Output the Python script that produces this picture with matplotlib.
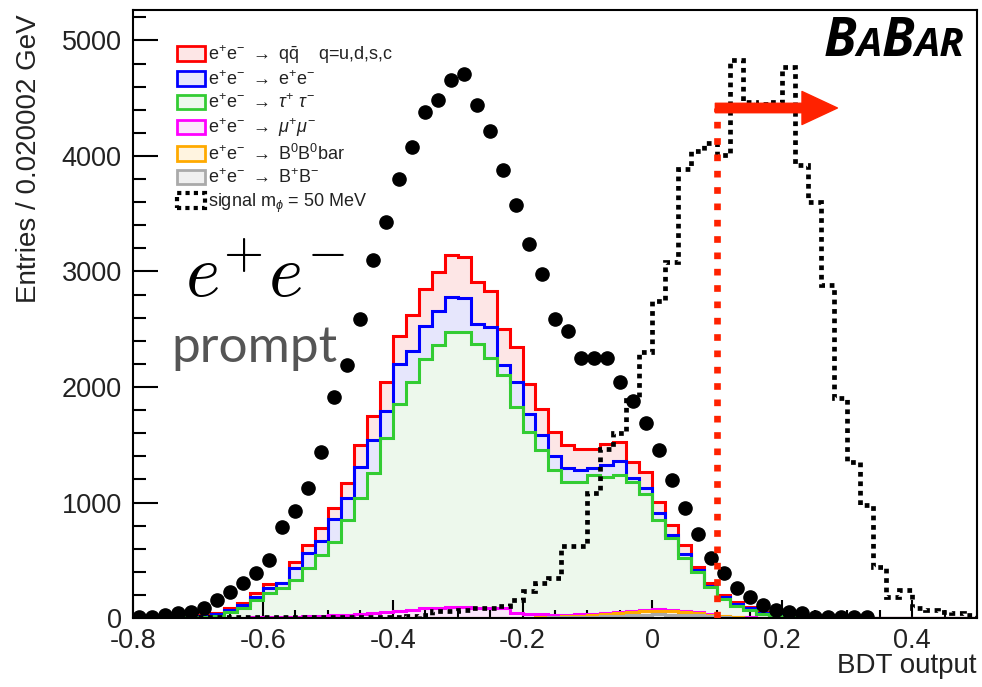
import numpy as np
import matplotlib.pyplot as plt
from matplotlib.patches import Patch
from matplotlib.ticker import MultipleLocator
from matplotlib.offsetbox import TextArea, HPacker, AnchoredOffsetbox

plt.rcParams['font.family'] = ['Liberation Sans', 'DejaVu Sans']
plt.rcParams['mathtext.fontset'] = 'custom'
plt.rcParams['mathtext.rm'] = 'Liberation Sans'
plt.rcParams['mathtext.it'] = 'Liberation Sans:italic'

# binning of the BDT output (65 bins of 0.02)
bdt_lo, bdt_hi, n_bins = -0.8, 0.5, 65

# stacked MC, cumulative tops as drawn (top = all processes)
stack_qq = [0, 0, 3, 6, 12, 22, 43, 87, 130, 217,
            295, 304, 486, 634, 776, 955, 1172, 1502, 1745, 2040,
            2439, 2622, 2847, 2995, 3142, 3125, 2908, 2830, 2500, 2344,
            2023, 1806, 1606, 1502, 1467, 1467, 1510, 1528, 1354, 1262,
            1007, 807, 630, 443, 304, 200, 139, 95, 52, 30,
            15, 8, 4, 2, 0, 0, 0, 0, 0, 0,
            0, 0, 0, 0, 0]
stack_ee = [0, 0, 2, 5, 10, 18, 32, 70, 115, 182,
            260, 300, 434, 564, 668, 855, 1040, 1311, 1545, 1788,
            2196, 2309, 2526, 2656, 2778, 2769, 2543, 2517, 2188, 2040,
            1770, 1585, 1406, 1300, 1285, 1302, 1328, 1358, 1215, 1128,
            911, 720, 552, 420, 280, 185, 125, 85, 45, 25,
            12, 6, 3, 1, 0, 0, 0, 0, 0, 0,
            0, 0, 0, 0, 0]
stack_tautau = [0, 0, 1, 3, 7, 12, 20, 50, 90, 156,
                217, 260, 330, 430, 547, 660, 851, 1042, 1259, 1562,
                1849, 2040, 2240, 2361, 2474, 2474, 2370, 2248, 2101, 1823,
                1610, 1458, 1285, 1181, 1181, 1241, 1224, 1235, 1181, 1075,
                851, 694, 521, 395, 265, 165, 105, 70, 38, 20,
                10, 5, 2, 1, 0, 0, 0, 0, 0, 0,
                0, 0, 0, 0, 0]
stack_mumu = [0, 0, 0, 0, 0, 0, 1, 2, 3, 5,
              8, 10, 12, 15, 18, 25, 30, 35, 40, 55,
              65, 70, 85, 90, 92, 92, 90, 90, 85, 40,
              35, 32, 30, 30, 32, 35, 42, 50, 60, 70,
              75, 72, 65, 55, 35, 20, 12, 6, 3, 1,
              0, 0, 0, 0, 0, 0, 0, 0, 0, 0,
              0, 0, 0, 0, 0]
stack_b0b0 = [0, 0, 0, 0, 0, 0, 0, 0, 0, 0,
              0, 0, 0, 0, 0, 0, 0, 0, 0, 0,
              0, 0, 0, 0, 0, 0, 0, 0, 0, 1,
              2, 5, 10, 15, 20, 25, 32, 40, 50, 60,
              65, 62, 55, 45, 28, 15, 8, 4, 2, 0,
              0, 0, 0, 0, 0, 0, 0, 0, 0, 0,
              0, 0, 0, 0, 0]
stack_bpbm = [0, 0, 0, 0, 0, 0, 0, 0, 0, 0,
              0, 0, 0, 0, 0, 0, 0, 0, 0, 0,
              0, 0, 0, 0, 0, 0, 0, 0, 0, 0,
              1, 3, 5, 8, 10, 13, 16, 20, 25, 30,
              32, 30, 27, 22, 14, 8, 4, 2, 0, 0,
              0, 0, 0, 0, 0, 0, 0, 0, 0, 0,
              0, 0, 0, 0, 0]

signal = [5, 5, 8, 8, 8, 8, 8, 8, 8, 8,
          8, 8, 8, 10, 10, 10, 10, 10, 10, 10,
          10, 15, 30, 65, 60, 70, 85, 90, 100, 160,
          235, 300, 350, 620, 620, 1080, 1460, 1600, 1890, 2300,
          2746, 3080, 3890, 4040, 4110, 4010, 4830, 4470, 4450, 4470,
          4770, 3920, 3600, 2880, 1905, 1350, 980, 445, 185, 243,
          84, 70, 55, 40, 30]

# e+e- prompt points, first 57 bins
prompt = [8, 8, 25, 43, 52, 87, 156, 226, 304, 390,
          503, 785, 925, 1125, 1438, 1910, 2188, 2587, 3100, 3426,
          3802, 4077, 4381, 4482, 4656, 4705, 4444, 4213, 3874, 3576,
          3238, 2977, 2587, 2485, 2254, 2254, 2254, 2045, 1877, 1691,
          1455, 1194, 953, 725, 521, 391, 260, 182, 113, 69,
          52, 43, 9, 9, 9, 9, 9]

cut_value = 0.1
arrow_end = 0.285
arrow_level = 4415

labels = [
    r"e$^{+}$e$^{-}$ $\rightarrow$ q$\bar{\mathrm{q}}$    q=u,d,s,c",
    r"e$^{+}$e$^{-}$ $\rightarrow$ e$^{+}$e$^{-}$",
    r"e$^{+}$e$^{-}$ $\rightarrow$ $\tau^{+}$ $\tau^{-}$",
    r"e$^{+}$e$^{-}$ $\rightarrow$ $\mu^{+}\mu^{-}$",
    r"e$^{+}$e$^{-}$ $\rightarrow$ B$^{0}$B$^{0}$bar",
    r"e$^{+}$e$^{-}$ $\rightarrow$ B$^{+}$B$^{-}$",
    r"signal m$_{\phi}$ = 50 MeV",
]

line_colors = ["#ff0000", "#0000ff", "#33cc33", "#ff00ff", "#ffaa00", "#aaaaaa"]
fill_colors = ["#fde6e6", "#e6e6fc", "#edf8ec", "#fbe6fb", "#fff4e0", "#f0f0f0"]

edges = np.linspace(bdt_lo, bdt_hi, n_bins + 1)
centers = 0.5 * (edges[:-1] + edges[1:])

fig = plt.figure(figsize=(9.82, 6.87), dpi=100)
ax = fig.add_axes([0.1354, 0.1004, 0.8595, 0.885])

stacks = [stack_qq, stack_ee, stack_tautau, stack_mumu, stack_b0b0, stack_bpbm]
for vals, lc, fc in zip(stacks, line_colors, fill_colors):
    ax.stairs(vals, edges, fill=True, facecolor=fc, edgecolor="none", zorder=1)
    ax.stairs(vals, edges, color=lc, lw=2.2, zorder=2)

ax.stairs(signal, edges, color="black", lw=3.4, ls=(0, (1, 1)), zorder=3)

ax.plot(centers[:len(prompt)], prompt, "o", color="black", ms=9.5, zorder=4)

cut_color = "#ff2200"
ax.plot([cut_value, cut_value], [0, arrow_level], color=cut_color, lw=4.8,
        ls=(0, (1, 1.45)), solid_capstyle="butt", zorder=5)
ax.annotate("", xy=(arrow_end, arrow_level), xytext=(cut_value - 0.003, arrow_level),
            arrowprops=dict(arrowstyle="simple,head_length=1.5,head_width=1.4,tail_width=0.4",
                            color=cut_color, shrinkA=0, shrinkB=0, mutation_scale=17),
            zorder=6)

ax.set_xlim(bdt_lo, bdt_hi)
ax.set_ylim(0, 5263)
ax.xaxis.set_major_locator(MultipleLocator(0.2))
ax.xaxis.set_minor_locator(MultipleLocator(0.05))
ax.yaxis.set_major_locator(MultipleLocator(1000))
ax.yaxis.set_minor_locator(MultipleLocator(200))
ax.xaxis.set_major_formatter(lambda v, p: "0" if abs(v) < 1e-9 else f"{v:g}")
ax.tick_params(which="both", direction="in", top=False, right=False, width=1.5,
               labelsize=19.5, labelcolor="#222222")
ax.tick_params(axis="y", which="major", length=18, pad=8)
ax.tick_params(axis="y", which="minor", length=9.5)
ax.tick_params(axis="x", which="major", length=13, pad=7)
ax.tick_params(axis="x", which="minor", length=6)
for s in ax.spines.values():
    s.set_linewidth(1.5)

ax.set_ylabel("Entries / 0.020002 GeV", fontsize=20, loc="top", color="#222222")
ax.yaxis.set_label_coords(-0.108, 0.993)
ax.set_xlabel("BDT output", fontsize=20, loc="right", color="#222222")
ax.xaxis.set_label_coords(1.0, -0.058)

handles = [Patch(facecolor=fc, edgecolor=lc, lw=2) for lc, fc in zip(line_colors, fill_colors)]
handles.append(Patch(facecolor="white", edgecolor="black", lw=3, ls=(0, (1, 1))))
ax.legend(handles, labels, loc="upper left", bbox_to_anchor=(0.052, 0.946),
          frameon=False, fontsize=13, borderpad=0, borderaxespad=0,
          handlelength=1.55, handleheight=0.85, handletextpad=0.2,
          labelspacing=0.25, labelcolor="#222222")

ax.text(0.062, 0.528, r"$e^{+}e^{-}$", transform=ax.transAxes, fontsize=53,
        math_fontfamily="cm", va="baseline")
ax.text(0.046, 0.421, "prompt", transform=ax.transAxes, fontsize=37,
        color="#555555", family="Lato", va="baseline")

babar = [("B", 38), ("A", 29), ("B", 38), ("AR", 29)]
boxes = [TextArea(t, textprops=dict(fontsize=s, fontweight="bold", fontstyle="italic",
                                    family="Open Sans"))
         for t, s in babar]
pack = HPacker(children=boxes, align="baseline", pad=0, sep=0)
ax.add_artist(AnchoredOffsetbox(loc="upper right", child=pack, pad=0, borderpad=0,
                                frameon=False, bbox_to_anchor=(0.985, 0.992),
                                bbox_transform=ax.transAxes))

fig.savefig("out.png", dpi=100)
